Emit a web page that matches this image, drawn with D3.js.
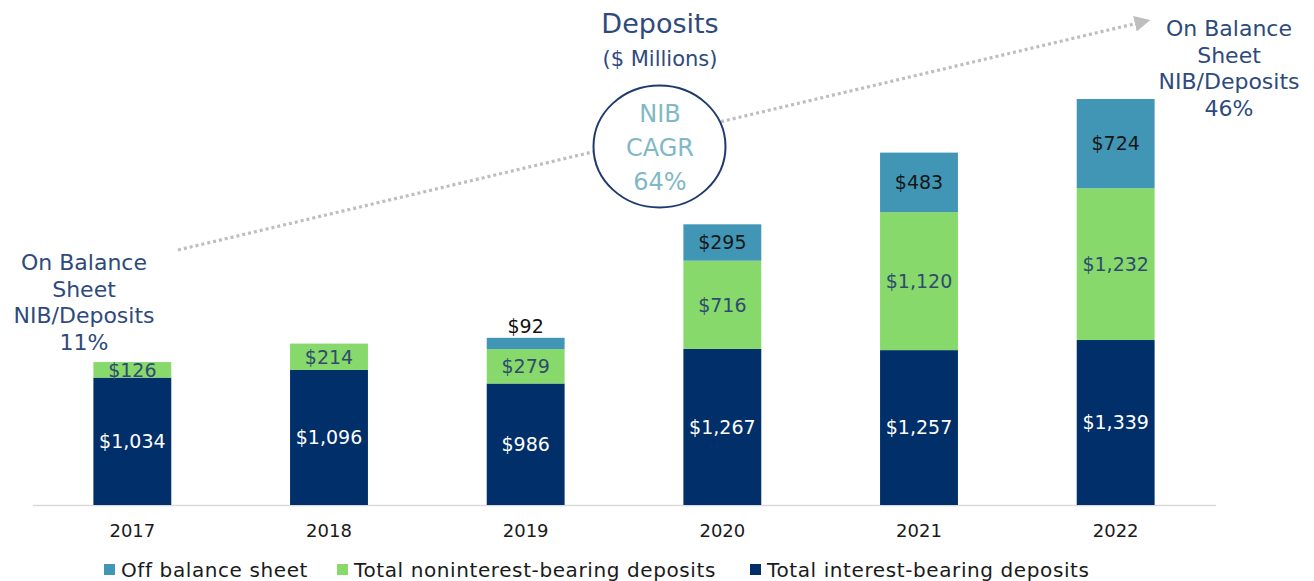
<!DOCTYPE html>
<html>
<head>
<meta charset="utf-8">
<script src="https://cdn.jsdelivr.net/npm/d3@7/dist/d3.min.js"></script>
<style>
  html, body { margin: 0; padding: 0; background: #ffffff; }
  svg { display: block; }
  text { font-family: "DejaVu Sans", sans-serif; }
</style>
</head>
<body>
<svg id="chart" width="1314" height="581"></svg>
<script>
// ---- Data ----
const years = ["2017", "2018", "2019", "2020", "2021", "2022"];
const interestBearing = [1034, 1096, 986, 1267, 1257, 1339];
const nonInterestBearing = [126, 214, 279, 716, 1120, 1232];
const offBalanceSheet = [0, 0, 92, 295, 483, 724];
const seriesNames = ["Off balance sheet", "Total noninterest-bearing deposits", "Total interest-bearing deposits"];
const titleLines = ["Deposits", "($ Millions)"];
const cagrLines = ["NIB", "CAGR", "64%"];
const leftNote = ["On Balance", "Sheet", "NIB/Deposits", "11%"];
const rightNote = ["On Balance", "Sheet", "NIB/Deposits", "46%"];

// ---- Styles ----
const colors = {
  interest: "#002F6A",
  nonInterest: "#86D96A",
  offBalance: "#4196B5",
  navyText: "#2E4A7C",
  cagrText: "#80B8C6",
  greenLabel: "#2F4B6E",
  tealLabel: "#161616",
  axis: "#D9D9D9",
  dots: "#BEBEBE"
};

const svg = d3.select("#chart");

const x = d3.scaleBand().domain(years).range([34, 1214]).paddingInner(0.604).paddingOuter(0.302);
const y = d3.scaleLinear().domain([0, 3300]).range([505, 98.4]);

const rows = years.map((yr, i) => ({
  year: yr,
  interest: interestBearing[i],
  nonInterest: nonInterestBearing[i],
  offBalance: offBalanceSheet[i]
}));

const keys = ["interest", "nonInterest", "offBalance"];
const stack = d3.stack().keys(keys)(rows);
const fillFor = { interest: colors.interest, nonInterest: colors.nonInterest, offBalance: colors.offBalance };
const labelColor = { interest: "#ffffff", nonInterest: colors.greenLabel, offBalance: colors.tealLabel };

// dotted trend arrow (drawn first, circle covers it)
const arrow = { x1: 178, y1: 250, x2: 1138, y2: 23 };
svg.append("defs").append("marker")
  .attr("id", "arrowhead")
  .attr("viewBox", "0 0 10 10")
  .attr("refX", 2).attr("refY", 5)
  .attr("markerWidth", 5).attr("markerHeight", 5)
  .attr("markerUnits", "strokeWidth")
  .attr("orient", "auto")
  .append("path").attr("d", "M0,0 L10,5 L0,10 Z").attr("fill", colors.dots);

svg.append("line")
  .attr("x1", arrow.x1).attr("y1", arrow.y1)
  .attr("x2", arrow.x2).attr("y2", arrow.y2)
  .attr("stroke", colors.dots)
  .attr("stroke-width", 3.2)
  .attr("stroke-dasharray", "3 3")
  .attr("marker-end", "url(#arrowhead)");

// axis baseline
svg.append("line")
  .attr("x1", 33).attr("x2", 1216)
  .attr("y1", y(0) + 0.5).attr("y2", y(0) + 0.5)
  .attr("stroke", colors.axis).attr("stroke-width", 1.5);

// bars
const layers = svg.append("g").selectAll("g").data(stack).join("g")
  .attr("fill", d => fillFor[d.key]);

layers.selectAll("rect").data(d => d.filter(s => s[1] - s[0] > 0)).join("rect")
  .attr("x", d => x(d.data.year))
  .attr("width", x.bandwidth())
  .attr("y", d => y(d[1]))
  .attr("height", d => y(d[0]) - y(d[1]));

// labels
const fmt = v => "$" + d3.format(",")(v);
stack.forEach(layer => {
  layer.forEach(s => {
    const v = s[1] - s[0];
    if (v <= 0) return;
    const h = y(s[0]) - y(s[1]);
    const cx = x(s.data.year) + x.bandwidth() / 2;
    const above = h < 13;
    svg.append("text")
      .attr("x", cx)
      .attr("y", above ? y(s[1]) - 12 : (y(s[0]) + y(s[1])) / 2)
      .attr("dy", "0.36em")
      .attr("text-anchor", "middle")
      .attr("font-size", 19)
      .attr("fill", above ? "#111111" : labelColor[layer.key])
      .text(fmt(v));
  });
});

// year labels
const xAxis = d3.axisBottom(x).tickSize(0).tickPadding(0);
const xg = svg.append("g").attr("transform", `translate(0,${y(0)})`).call(xAxis);
xg.select(".domain").remove();
xg.selectAll("text")
  .attr("y", 26).attr("dy", "0.36em")
  .attr("font-family", "DejaVu Sans, sans-serif")
  .attr("font-size", 18)
  .attr("fill", "#1a1a1a");

// legend
const legendX = [104, 337, 750];
const legendColors = [colors.offBalance, colors.nonInterest, colors.interest];
seriesNames.forEach((name, i) => {
  svg.append("rect")
    .attr("x", legendX[i]).attr("y", 564)
    .attr("width", 11).attr("height", 11)
    .attr("fill", legendColors[i]);
  svg.append("text")
    .attr("x", legendX[i] + 17).attr("y", 570).attr("dy", "0.36em")
    .attr("font-size", 20).attr("letter-spacing", 0.6).attr("fill", "#1a1a1a")
    .text(name);
});

// title
svg.append("text").attr("x", 660).attr("y", 23).attr("dy", "0.36em")
  .attr("text-anchor", "middle").attr("font-size", 27).attr("fill", colors.navyText)
  .text(titleLines[0]);
svg.append("text").attr("x", 660).attr("y", 58).attr("dy", "0.36em")
  .attr("text-anchor", "middle").attr("font-size", 21).attr("fill", colors.navyText)
  .text(titleLines[1]);

// CAGR ellipse
svg.append("ellipse")
  .attr("cx", 659.5).attr("cy", 146.5).attr("rx", 66).attr("ry", 61)
  .attr("fill", "#ffffff").attr("stroke", "#1E3B6F").attr("stroke-width", 2);
cagrLines.forEach((t, i) => {
  svg.append("text").attr("x", 660).attr("y", 113 + i * 34).attr("dy", "0.36em")
    .attr("text-anchor", "middle").attr("font-size", 24).attr("fill", colors.cagrText)
    .text(t);
});

// side notes
leftNote.forEach((t, i) => {
  svg.append("text").attr("x", 84).attr("y", 262 + i * 26.7).attr("dy", "0.36em")
    .attr("text-anchor", "middle").attr("font-size", 22).attr("fill", colors.navyText)
    .text(t);
});
rightNote.forEach((t, i) => {
  svg.append("text").attr("x", 1229).attr("y", 28 + i * 26.7).attr("dy", "0.36em")
    .attr("text-anchor", "middle").attr("font-size", 22).attr("fill", colors.navyText)
    .text(t);
});
</script>
</body>
</html>
